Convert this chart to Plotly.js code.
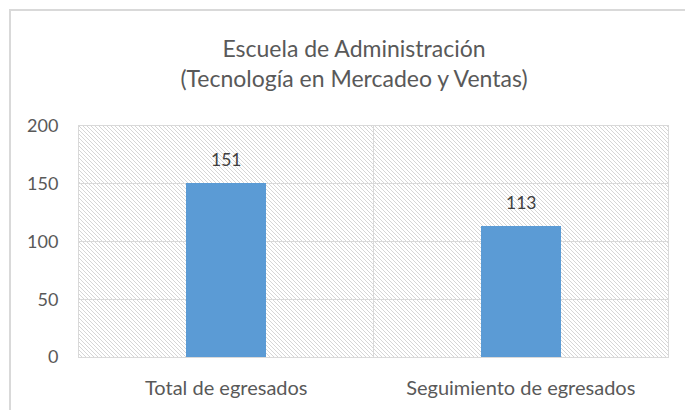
<!DOCTYPE html>
<html>
<head>
<meta charset="utf-8">
<script src="https://cdn.plot.ly/plotly-3.0.1.min.js"></script>
<style>html,body{margin:0;padding:0;background:#fff;}#chart{width:685px;height:410px;}</style>
</head>
<body>
<div id="chart"></div>
<script>
const categories = ["Total de egresados", "Seguimiento de egresados"];
const values = [151, 113];
const yTicks = [0, 50, 100, 150, 200];
const titleLines = ["Escuela de Administración", "(Tecnología en Mercadeo y Ventas)"];

const W = 685, H = 410;
const M = {l: 79, r: 17, t: 126, b: 53};
const pw = W - M.l - M.r, ph = H - M.t - M.b;

// diagonal hatch background for the plot area (pixel diagonal stripes)
const hatch = '<svg xmlns="http://www.w3.org/2000/svg" width="' + pw + '" height="' + ph + '" shape-rendering="crispEdges">' +
  '<defs><pattern id="p" width="4" height="4" patternUnits="userSpaceOnUse">' +
  '<rect x="0" y="0" width="1" height="1" fill="#d6d6d6"/>' +
  '<rect x="1" y="1" width="1" height="1" fill="#d6d6d6"/>' +
  '<rect x="2" y="2" width="1" height="1" fill="#d6d6d6"/>' +
  '<rect x="3" y="3" width="1" height="1" fill="#d6d6d6"/>' +
  '</pattern></defs><rect width="100%" height="100%" fill="#fff"/><rect width="100%" height="100%" fill="url(#p)"/></svg>';
const hatchURI = 'data:image/svg+xml;charset=utf-8,' + encodeURIComponent(hatch);

const FONT = 'Lato, "Open Sans", sans-serif';

const trace = {
  type: 'bar',
  x: categories,
  y: values,
  width: 0.27,
  marker: {color: '#5B9BD5'},
  hoverinfo: 'none'
};

const ann = categories.map((c, i) => ({
  x: c, y: values[i], xref: 'x', yref: 'y',
  text: String(values[i]), showarrow: false,
  yanchor: 'bottom', yshift: 11,
  font: {family: FONT, size: 17.5, color: '#404040'}
}));

const px2x = px => (px - M.l) / pw;
const px2y = py => (H - M.b - py) / ph;

const layout = {
  width: W, height: H,
  margin: M,
  paper_bgcolor: '#ffffff',
  plot_bgcolor: 'rgba(0,0,0,0)',
  showlegend: false,
  font: {family: FONT, color: '#595959'},
  title: {
    text: titleLines.join('<br>'),
    x: 354 / W, xanchor: 'center', xref: 'container',
    y: 1 - 57 / H, yanchor: 'top', yref: 'container',
    font: {family: FONT, size: 23, color: '#595959'}
  },
  xaxis: {
    type: 'category',
    range: [-0.5, 1.5],
    showgrid: false,
    zeroline: false,
    showline: true, mirror: true, linecolor: '#d9d9d9', linewidth: 1,
    ticks: '',
    ticklabelstandoff: 13,
    tickfont: {size: 20, color: '#595959'}
  },
  yaxis: {
    range: [0, 200],
    tickvals: yTicks,
    ticktext: yTicks.map(String),
    showgrid: true, gridcolor: '#d9d9d9', gridwidth: 1,
    zeroline: false,
    showline: true, mirror: true, linecolor: '#d9d9d9', linewidth: 1,
    ticks: '',
    ticklabelstandoff: 16,
    tickfont: {size: 18, color: '#595959'}
  },
  images: [{
    source: hatchURI,
    xref: 'paper', yref: 'paper',
    x: 0, y: 1, sizex: 1, sizey: 1,
    xanchor: 'left', yanchor: 'top',
    sizing: 'stretch', layer: 'below'
  }],
  shapes: [
    {type: 'line', xref: 'x', yref: 'paper', x0: 0.5, x1: 0.5, y0: 0, y1: 1,
     line: {color: '#d9d9d9', width: 1}, layer: 'below'},
    {type: 'rect', xref: 'paper', yref: 'paper',
     x0: px2x(10), x1: px2x(W + 20), y0: px2y(H + 20), y1: px2y(10),
     line: {color: '#d9d9d9', width: 2}, fillcolor: 'rgba(0,0,0,0)', layer: 'above'}
  ],
  annotations: ann,
  bargap: 0
};

Plotly.newPlot('chart', [trace], layout, {displayModeBar: false, staticPlot: true});
</script>
</body>
</html>
